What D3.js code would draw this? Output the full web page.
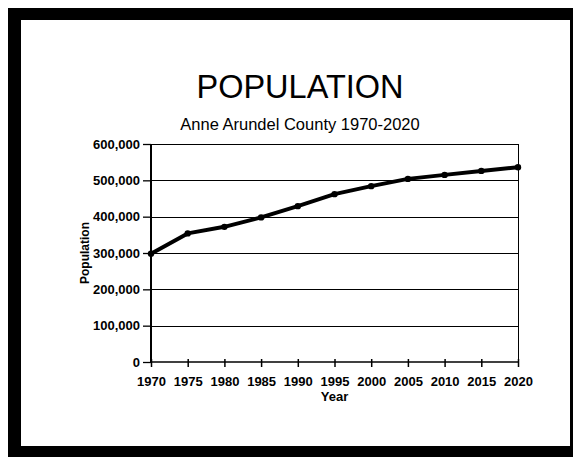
<!DOCTYPE html>
<html>
<head>
<meta charset="utf-8">
<script src="https://cdn.jsdelivr.net/npm/d3@7"></script>
<style>
  html, body { margin: 0; padding: 0; background: #fff; }
  svg { display: block; font-family: "Liberation Sans", Arial, sans-serif; }
</style>
</head>
<body>
<svg id="chart" width="573" height="457"></svg>
<script>
// Anne Arundel County population, census and projections
const years = [1970, 1975, 1980, 1985, 1990, 1995, 2000, 2005, 2010, 2015, 2020];
const population = [298000, 354000, 372000, 398000, 429000, 462000, 484000, 504000, 515000, 526000, 536000];
const yTicks = [0, 100000, 200000, 300000, 400000, 500000, 600000];
const xTicks = years;

const titleText = "POPULATION";
const subtitleText = "Anne Arundel County 1970-2020";
const xLabel = "Year";
const yLabel = "Population";

const svg = d3.select("#chart");

// Black frame around the page
svg.append("rect").attr("x", 8).attr("y", 8).attr("width", 565).attr("height", 449).attr("fill", "#000");
svg.append("rect").attr("x", 21).attr("y", 20).attr("width", 549).attr("height", 426).attr("fill", "#fff");

const plot = { left: 151, right: 518, top: 144, bottom: 362 };

const x = d3.scaleLinear().domain([1970, 2020]).range([plot.left, plot.right]);
const y = d3.scaleLinear().domain([0, 600000]).range([plot.bottom, plot.top]);

// Titles
svg.append("text").attr("x", 300).attr("y", 98).attr("text-anchor", "middle")
  .attr("font-size", 32.5).attr("fill", "#000").text(titleText);
svg.append("text").attr("x", 300).attr("y", 130).attr("text-anchor", "middle")
  .attr("font-size", 16.5).attr("fill", "#000").text(subtitleText);

// Horizontal gridlines
svg.append("g").selectAll("line").data(yTicks.filter(d => d > 0)).join("line")
  .attr("x1", plot.left).attr("x2", plot.right)
  .attr("y1", d => Math.round(y(d)) + 0.5).attr("y2", d => Math.round(y(d)) + 0.5)
  .attr("stroke", "#000").attr("stroke-width", 1);

// Right edge of plot area
svg.append("line").attr("x1", plot.right + 0.5).attr("x2", plot.right + 0.5)
  .attr("y1", plot.top).attr("y2", plot.bottom).attr("stroke", "#000").attr("stroke-width", 1);

// Y axis
const yAxis = svg.append("g").attr("transform", `translate(${plot.left},0)`)
  .call(d3.axisLeft(y).tickValues(yTicks).tickFormat(d3.format(",")).tickSize(8).tickPadding(3));
yAxis.select(".domain").attr("stroke", "#000").attr("stroke-width", 2).attr("d", `M0,${plot.top}V${plot.bottom}`);
yAxis.selectAll(".tick line").attr("stroke", "#000").attr("stroke-width", 1.3);
yAxis.selectAll(".tick text").attr("font-size", 13).attr("font-weight", "bold")
  .attr("font-family", "Liberation Sans, Arial, sans-serif").attr("fill", "#000");

// X axis
const xAxis = svg.append("g").attr("transform", `translate(0,${plot.bottom})`)
  .call(d3.axisBottom(x).tickValues(xTicks).tickFormat(d3.format("d")).tickSize(5).tickPadding(10));
xAxis.select(".domain").attr("stroke", "#000").attr("stroke-width", 1.5).attr("d", `M${plot.left},0H${plot.right}`);
xAxis.selectAll(".tick line").attr("stroke", "#000").attr("stroke-width", 1.5).attr("y1", -3);
xAxis.selectAll(".tick text").attr("font-size", 13).attr("font-weight", "bold")
  .attr("font-family", "Liberation Sans, Arial, sans-serif").attr("fill", "#000");

// Axis titles
svg.append("text").attr("x", (plot.left + plot.right) / 2).attr("y", 401).attr("text-anchor", "middle")
  .attr("font-size", 13).attr("font-weight", "bold").attr("fill", "#000").text(xLabel);
svg.append("text").attr("transform", `translate(89,${(plot.top + plot.bottom) / 2}) rotate(-90)`)
  .attr("text-anchor", "middle").attr("font-size", 12).attr("font-weight", "bold")
  .attr("fill", "#000").text(yLabel);

// Population line with markers
const data = years.map((yr, i) => ({ year: yr, value: population[i] }));
svg.append("path").datum(data)
  .attr("fill", "none").attr("stroke", "#000").attr("stroke-width", 4).attr("stroke-linejoin", "round")
  .attr("d", d3.line().x(d => x(d.year)).y(d => y(d.value)));
svg.append("g").selectAll("circle").data(data).join("circle")
  .attr("cx", d => x(d.year)).attr("cy", d => y(d.value)).attr("r", 3.2).attr("fill", "#000");
</script>
</body>
</html>
